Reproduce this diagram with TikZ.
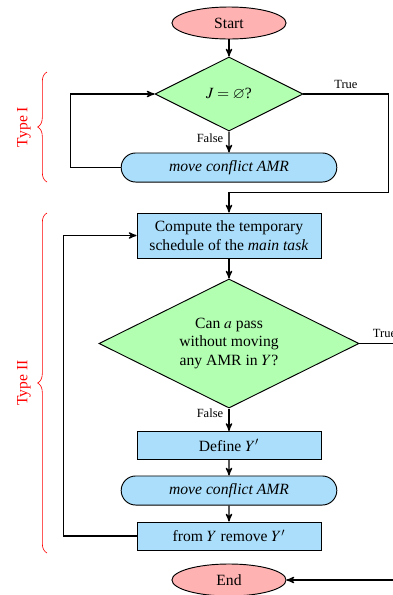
\documentclass[tikz,border=0pt]{standalone}
\usepackage{amssymb}
\usepackage{mathptmx}
\usepackage{fontspec}
\setmainfont{Liberation Serif}
\usetikzlibrary{arrows,shapes.geometric,shapes.misc,decorations.pathreplacing}
\definecolor{TermClr}{RGB}{255,178,178}
\definecolor{DecClr}{RGB}{178,255,178}
\definecolor{ProcClr}{RGB}{170,222,250}

\begin{document}
\begin{tikzpicture}[x=0.64pt,y=-0.64pt,>=stealth',
  term/.style={ellipse,draw,semithick,fill=TermClr,minimum width=73pt,minimum height=20.5pt,inner sep=0pt},
  dec/.style={diamond,draw,semithick,fill=DecClr,aspect=2,inner sep=0pt,align=center},
  proc/.style={rectangle,draw,semithick,fill=ProcClr,minimum width=117.8pt,align=center,inner sep=2pt},
  act/.style={rounded rectangle,draw,semithick,fill=ProcClr,minimum width=138pt,minimum height=18.6pt,inner sep=0pt},
  line/.style={draw,line width=0.8pt},
  lbl/.style={font=\footnotesize},
  group/.style={red,decorate,decoration={brace,amplitude=6pt}}]
\useasboundingbox (0,0) rectangle (393,595);

\node[term] (start) at (229,23) {Start};
\node[dec,minimum width=94.7pt,minimum height=47.4pt] (isempty) at (229,94) {$J = \varnothing$?};
\node[act] (move1) at (229,167.5) {\textit{move conflict AMR}};

\node[proc,minimum height=28.8pt] (sched) at (229,235.5) {Compute the temporary\\schedule of the \textit{main task}};
\node[dec,minimum width=166.4pt,minimum height=82.6pt] (canpass) at (229,343.5) {Can $a$ pass\\without moving\\any AMR in $Y$?};
\node[proc,minimum height=17.9pt] (define) at (229,445.5) {Define $Y'$};
\node[act] (move2) at (229,490.5) {\textit{move conflict AMR}};
\node[proc,minimum height=17.9pt] (remove) at (229,536) {from $Y$ remove $Y'$};
\node[term] (end) at (229,580) {End};

% type I
\draw[line,->] (start) -- (isempty);
\draw[line,->] (isempty) -- node[left,lbl,pos=.3]{False} (move1);
\draw[line,->] (move1.west) -- ++(-50,0) |- (isempty.west);
\draw[line,->] (isempty.east) -- node[above,lbl]{True} ++(85,0) -- ++(0,98.5) -| (sched);

% type II
\draw[line,->] (sched) -- (canpass);
\draw[line] (canpass.east) -- node[above,lbl]{True} ++(50,0);
\draw[line,->] (canpass) -- node[left,lbl,pos=.2]{False} (define);
\draw[line,->] (define) -- (move2);
\draw[line,->] (move2) -- (remove);
\draw[line,->] (remove.west) -- ++(-73,0) |- (sched.west);
\draw[line,<-] (end.east) -- ++(120,0);

% braces
\draw[group] (47,182) -- (47,72);
\node[red,rotate=90] (typeI) at (24,127) {Type I};
\draw[group] (47,553) -- (47,213);
\node[red,rotate=90] (typeII) at (24,383) {Type II};

\end{tikzpicture}
\end{document}
